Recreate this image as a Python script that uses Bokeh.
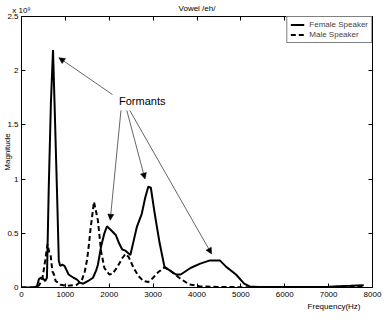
from bokeh.plotting import figure
from bokeh.models import (Range1d, FixedTicker, CustomJSTickFormatter, LinearAxis,
                          Label, Arrow, NormalHead, Legend, LegendItem, Title)
from bokeh.embed import file_html
from bokeh.resources import INLINE

# ---- data (magnitude in units of 1e9) ----
freq_female = [0, 100, 200, 300, 350, 400, 450, 500, 540, 580, 620, 670, 718, 760, 815, 850,
               880, 930, 980, 1074, 1185, 1259, 1333, 1407, 1519, 1630, 1704, 1741, 1815,
               1889, 1948, 2037, 2148, 2222, 2296, 2370, 2481, 2556, 2630, 2741, 2815, 2889,
               2948, 3037, 3148, 3259, 3370, 3519, 3630, 3852, 4074, 4296, 4519, 4667, 4889,
               5074, 5200, 5400, 6000, 7000, 7500, 7800]
mag_female = [0, 0, 0, 0.005, 0.01, 0.08, 0.09, 0.08, 0.06, 0.09, 0.9, 1.7, 2.19, 1.6, 0.8, 0.25,
              0.2, 0.21, 0.2, 0.12, 0.09, 0.075, 0.045, 0.035, 0.06, 0.09, 0.16, 0.21, 0.38,
              0.5, 0.565, 0.53, 0.485, 0.41, 0.35, 0.34, 0.3, 0.43, 0.56, 0.68, 0.82, 0.93,
              0.92, 0.68, 0.41, 0.19, 0.16, 0.12, 0.12, 0.18, 0.22, 0.25, 0.25, 0.19, 0.12,
              0.035, 0.01, 0.005, 0.005, 0.008, 0.015, 0.02]

freq_male = [0, 300, 400, 450, 480, 540, 593, 630, 667, 704, 741, 778, 815, 889, 1037, 1259,
             1370, 1444, 1496, 1541, 1570, 1652, 1741, 1815, 1889, 2000, 2074, 2185, 2296,
             2370, 2444, 2556, 2667, 2778, 2889, 3000, 3111, 3259, 3407, 3593, 3815, 4074,
             4500, 5000, 6000, 7000, 7800]
mag_male = [0, 0, 0.02, 0.06, 0.09, 0.25, 0.4, 0.33, 0.29, 0.15, 0.12, 0.06, 0.05, 0.025, 0.015,
            0.025, 0.06, 0.15, 0.26, 0.41, 0.53, 0.79, 0.62, 0.33, 0.18, 0.12, 0.125, 0.19,
            0.27, 0.31, 0.28, 0.18, 0.105, 0.06, 0.05, 0.09, 0.14, 0.185, 0.15, 0.09, 0.03,
            0.01, 0.005, 0.003, 0.003, 0.005, 0.008]

x_ticks = [0, 1000, 2000, 3000, 4000, 5000, 6000, 7000, 8000]
x_tick_labels = ["0", "1000", "2000", "3000", "4000", "5000", "6000", "7000", "8000"]
y_ticks = [0, 0.5, 1, 1.5, 2, 2.5]
y_tick_labels = ["0", "0.5", "1", "1.5", "2", "2.5"]
top_tick_labels = ["x 10\u2079", "", "", "", "", "", "", "", ""]
right_tick_labels = ["", "", "", "", "", ""]

title_text = "Vowel /eh/"
x_label = "Frequency(Hz)"
y_label = "Magnitude"

# formant annotation
formant_text = "Formants"
formant_text_pos = (2222, 1.72)
arrow_tail_x = [2074, 2267, 2400, 2467]
arrow_tail_y = [1.78, 1.634, 1.634, 1.634]
arrow_head_x = [852, 2022, 2815, 4333]
arrow_head_y = [2.12, 0.62, 1.0, 0.31]

FONT = "Liberation Sans"

p = figure(width=384, height=311, output_backend="svg", toolbar_location=None,
           x_range=Range1d(0, 8000), y_range=Range1d(0, 2.5))
p.min_border_left = 0
p.min_border_right = 12
p.min_border_top = 0
p.min_border_bottom = 0
p.xgrid.visible = False
p.ygrid.visible = False
p.outline_line_color = "black"
p.outline_line_width = 1
p.background_fill_color = "white"
p.border_fill_color = "white"

JS = "const i = tvals.indexOf(tick); return i >= 0 ? tlabels[i] : '';"


def style_axis(ax, ticks, labels, standoff):
    ax.ticker = FixedTicker(ticks=ticks)
    ax.formatter = CustomJSTickFormatter(args=dict(tvals=ticks, tlabels=labels), code=JS)
    ax.axis_line_color = "black"
    ax.axis_line_width = 1
    ax.major_tick_in = 4
    ax.major_tick_out = 0
    ax.major_tick_line_color = "black"
    ax.minor_tick_in = 0
    ax.minor_tick_out = 0
    ax.minor_tick_line_color = None
    ax.major_label_text_font = FONT
    ax.major_label_text_font_size = "8px"
    ax.major_label_text_color = "black"
    ax.major_label_standoff = standoff
    ax.axis_label_text_font = FONT
    ax.axis_label_text_font_size = "8px"
    ax.axis_label_text_font_style = "normal"
    ax.axis_label_text_color = "black"


xa = p.xaxis[0]
style_axis(xa, x_ticks, x_tick_labels, 4)
ya = p.yaxis[0]
style_axis(ya, y_ticks, y_tick_labels, 3)
ya.axis_label = y_label
ya.axis_label_standoff = -8

top_axis = LinearAxis()
style_axis(top_axis, x_ticks, top_tick_labels, 2)
top_axis.major_label_text_align = "left"
top_axis.axis_label = title_text
top_axis.axis_label_standoff = -10
p.add_layout(top_axis, "above")

right_axis = LinearAxis()
style_axis(right_axis, y_ticks, right_tick_labels, 0)
p.add_layout(right_axis, "right")

xt = Title(text=x_label, align="right", offset=12, standoff=1,
           text_font=FONT, text_font_size="8px", text_font_style="normal", text_color="black")
p.add_layout(xt, "below")

r_f = p.line(freq_female, mag_female, line_color="black", line_width=2)
r_m = p.line(freq_male, mag_male, line_color="black", line_width=2, line_dash="5 3")

legend = Legend(items=[LegendItem(label="Female Speaker", renderers=[r_f]),
                       LegendItem(label="Male Speaker", renderers=[r_m])],
                location="top_right")
legend.label_text_font = FONT
legend.label_text_font_size = "8px"
legend.label_height = 9
legend.glyph_height = 9
legend.glyph_width = 14
legend.label_standoff = 5
legend.padding = 3
legend.spacing = 1
legend.margin = 0
legend.border_line_color = "black"
legend.border_line_width = 1
legend.background_fill_alpha = 1
p.add_layout(legend, "center")

for xs, ys, xe, ye in zip(arrow_tail_x, arrow_tail_y, arrow_head_x, arrow_head_y):
    p.add_layout(Arrow(end=NormalHead(size=6, fill_color="black", line_color="black", line_width=0.5),
                       x_start=xs, y_start=ys, x_end=xe, y_end=ye,
                       line_color="#222222", line_width=0.7))

p.add_layout(Label(x=formant_text_pos[0], y=formant_text_pos[1], text=formant_text,
                   text_font=FONT, text_font_size="11px", text_baseline="middle",
                   text_align="left", text_color="black"))

open("out.html", "w").write(file_html(p, INLINE))
